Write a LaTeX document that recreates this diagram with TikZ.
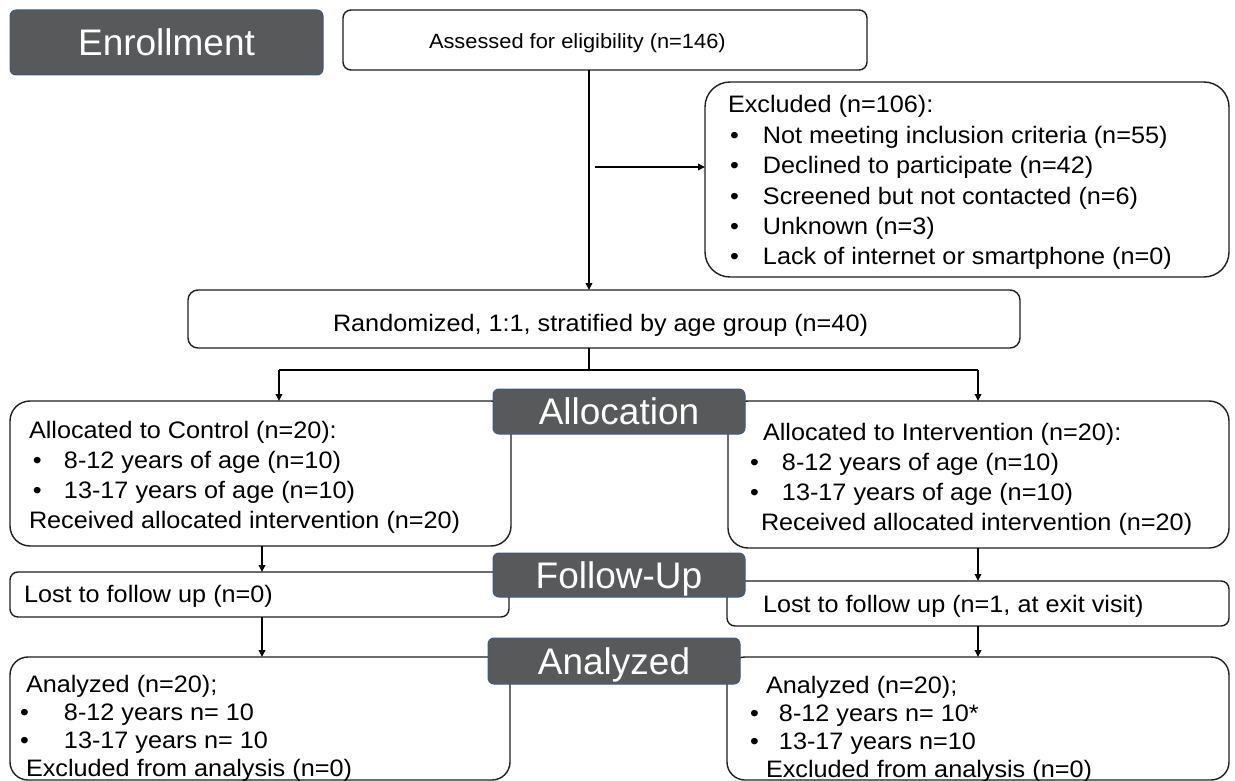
\documentclass[tikz,border=0pt]{standalone}
\usepackage{fontspec}
\setmainfont[FakeStretch=1.06]{Liberation Sans}
\newfontfamily\labfont{Liberation Sans}
\usetikzlibrary{arrows.meta,calc}
\definecolor{labfill}{HTML}{58595B}
\definecolor{labedge}{HTML}{3E5A86}
\definecolor{boxedge}{HTML}{1E1E1E}
\newcommand\bodyfs{\fontsize{23.8}{30.3}\selectfont}
\newcommand\smallfs{\fontsize{20.6}{24}\selectfont}
\newcommand\labfs{\labfont\fontsize{37}{40}\selectfont}
\newcommand\bul[1]{\makebox[#1][l]{\textbullet}}
\newcommand\stack[2][30.3]{\vtop{\bodyfs\baselineskip=#1pt\relax\halign{##\hfil\cr#2\crcr}}}
\begin{document}
\begin{tikzpicture}[x=1pt,y=-1pt,
  box/.style={draw=boxedge, line width=1.4pt, fill=white, anchor=north west,
    inner sep=0pt, outer sep=0pt, font=\bodyfs},
  stage/.style={draw=labedge, line width=1pt, fill=labfill, text=white,
    rounded corners=6pt, anchor=north west, inner sep=0pt, outer sep=0pt,
    font=\labfs, text height=26.5pt, text depth=0pt},
  txt/.style={anchor=base west, inner sep=0pt, outer sep=0pt},
  conn/.style={line width=2pt, draw=black},
  arr/.style={-{Triangle[length=7pt,width=6.5pt]}}]
\useasboundingbox (0,0) rectangle (1235,781);

% boxes
\node[box, rounded corners=8pt, minimum width=524pt, minimum height=60pt] (assess) at (343,10) {};
\node[box, rounded corners=25pt, minimum width=524pt, minimum height=195pt] (excl) at (705,82) {};
\node[box, rounded corners=10pt, minimum width=832pt, minimum height=58pt] (rand) at (188,290) {};
\node[box, rounded corners=20pt, minimum width=501pt, minimum height=145pt] (ctrl) at (10,401) {};
\node[box, rounded corners=20pt, minimum width=501pt, minimum height=147pt] (interv) at (728,401) {};
\node[box, rounded corners=8pt, minimum width=499pt, minimum height=45pt] (lostL) at (10,572) {};
\node[box, rounded corners=8pt, minimum width=502pt, minimum height=45pt] (lostR) at (727,581) {};
\node[box, rounded corners=18pt, minimum width=500pt, minimum height=123pt] (anaL) at (10,657) {};
\node[box, rounded corners=18pt, minimum width=502pt, minimum height=123pt] (anaR) at (727,657) {};

% texts
\node[txt] (assessT) at (429,49) {\smallfs Assessed for eligibility (n=146)};
\node[txt] (randT) at (333,331) {\bodyfs Randomized, 1:1, stratified by age group (n=40)};
\node[txt] (exclT) at (728,113) {\stack[30.4]{Excluded (n=106):\cr
\hspace*{2pt}\bul{33pt}Not meeting inclusion criteria (n=55)\cr
\hspace*{2pt}\bul{33pt}Declined to participate (n=42)\cr
\hspace*{2pt}\bul{33pt}Screened but not contacted (n=6)\cr
\hspace*{2pt}\bul{33pt}Unknown (n=3)\cr
\hspace*{2pt}\bul{33pt}Lack of internet or smartphone (n=0)}};
\node[txt] (ctrlT) at (29,438) {\stack[30]{Allocated to Control (n=20):\cr
\hspace*{4pt}\bul{31pt}8-12 years of age (n=10)\cr
\hspace*{4pt}\bul{31pt}13-17 years of age (n=10)\cr
Received allocated intervention (n=20)}};
\node[txt] (intervT) at (750,440) {\stack[30]{\hspace*{13pt}Allocated to Intervention (n=20):\cr
\bul{32pt}8-12 years of age (n=10)\cr
\bul{32pt}13-17 years of age (n=10)\cr
\hspace*{11pt}Received allocated intervention (n=20)}};
\node[txt] (lostLT) at (24,602) {\bodyfs Lost to follow up (n=0)};
\node[txt] (lostRT) at (763,612) {\bodyfs Lost to follow up (n=1, at exit visit)};
\node[txt] (anaLT) at (20,692) {\stack[28.3]{\hspace*{6pt}Analyzed (n=20);\cr
\bul{44pt}8-12 years n= 10\cr
\bul{44pt}13-17 years n= 10\cr
\hspace*{6pt}Excluded from analysis (n=0)}};
\node[txt] (anaRT) at (750,693) {\stack[28.3]{\hspace*{16pt}Analyzed (n=20);\cr
\bul{29pt}8-12 years n= 10*\cr
\bul{29pt}13-17 years n=10\cr
\hspace*{16pt}Excluded from analysis (n=0)}};

% connectors
\coordinate (sp) at (589,0);
\draw[conn,arr] (assess.south -| sp) -- (rand.north -| sp);
\coordinate (exS) at (595,167);
\draw[conn,arr] (exS) -- (exS -| excl.west);
\coordinate (junc) at (589,370);
\coordinate (jl) at (279,370);
\coordinate (jr) at (978,370);
\draw[conn] (rand.south -| sp) -- (junc);
\draw[conn] (jl) -- (jr);
\draw[conn,arr] (jl) -- (ctrl.north -| jl);
\draw[conn,arr] (jr) -- (interv.north -| jr);
\coordinate (cl) at (262,0);
\coordinate (cr) at (978,0);
\draw[conn,arr] (ctrl.south -| cl) -- (lostL.north -| cl);
\draw[conn,arr] (lostL.south -| cl) -- (anaL.north -| cl);
\draw[conn,arr] (interv.south -| cr) -- (lostR.north -| cr);
\draw[conn,arr] (lostR.south -| cr) -- (anaR.north -| cr);

% stage labels
\node[stage, minimum width=313pt, minimum height=65pt] (enr) at (10,10) {Enrollment};
\node[stage, minimum width=252pt, minimum height=45pt] (alloc) at (493,389) {Allocation};
\node[stage, minimum width=252pt, minimum height=44pt] (fup) at (493,553) {Follow-Up};
\node[stage, minimum width=252pt, minimum height=46pt] (anal) at (488,638) {Analyzed};
\end{tikzpicture}
\end{document}
